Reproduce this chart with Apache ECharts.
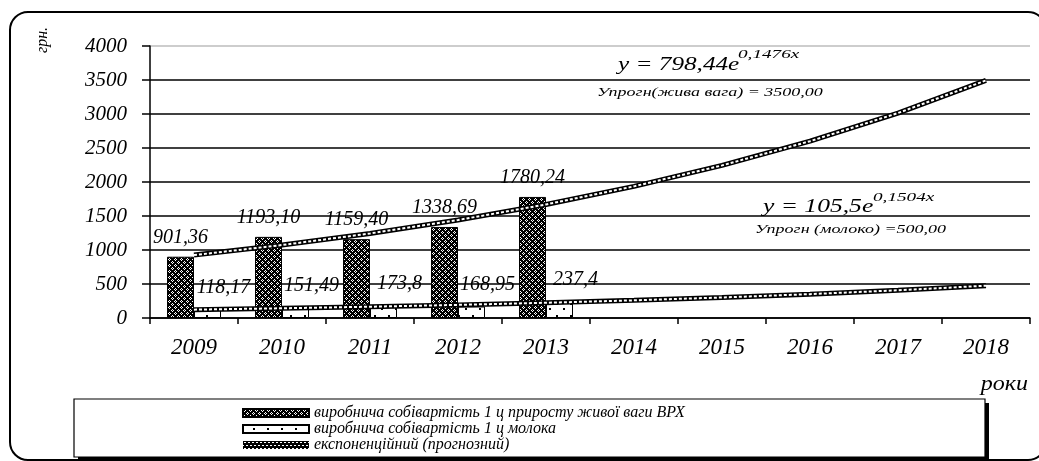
<!DOCTYPE html>
<html style="height: 100%">
<head>
    <meta charset="utf-8">
</head>
<body style="height: 100%; margin: 0; background: #fff">
<div id="container" style="width: 1039px; height: 461px"></div>
<script src="https://cdn.jsdelivr.net/npm/echarts@6/dist/echarts.min.js"></script>
<script>
    // дані з графіка
    var years = ['2009', '2010', '2011', '2012', '2013', '2014', '2015', '2016', '2017', '2018'];
    var costLive = [901.36, 1193.10, 1159.40, 1338.69, 1780.24];
    var costMilk = [118.17, 151.49, 173.8, 168.95, 237.4];
    // прочитано з ліній тренду на графіку
    var trendLive = [925, 1073, 1243, 1441, 1670, 1936, 2244, 2600, 3014, 3494];
    var trendMilk = [123, 143, 166, 193, 224, 260, 302, 351, 408, 475];
    var yTicks = [0, 500, 1000, 1500, 2000, 2500, 3000, 3500, 4000];
    var names = [
        'виробнича собівартість 1 ц приросту живої ваги ВРХ',
        'виробнича собівартість 1 ц молока',
        'експоненційний (прогнозний)'
    ];

    var serif = '"Liberation Serif", "Times New Roman", serif';

    // штрихування стовпців
    function makeTile(w, h, bg, fg, cells) {
        var c = document.createElement('canvas');
        c.width = w; c.height = h;
        var ctx = c.getContext('2d');
        ctx.fillStyle = bg;
        ctx.fillRect(0, 0, w, h);
        ctx.fillStyle = fg;
        for (var i = 0; i < cells.length; i++) {
            ctx.fillRect(cells[i][0], cells[i][1], cells[i][2] || 1, cells[i][3] || 1);
        }
        return {image: c, repeat: 'repeat'};
    }
    var darkPat = makeTile(6, 6, '#000', '#fff',
        [[1, 0], [0, 1], [2, 1], [1, 2], [4, 3], [3, 4], [5, 4], [4, 5]]);
    var dotPat = makeTile(14, 12, '#fff', '#000', [[3, 8, 2, 2], [10, 3, 2, 2]]);
    var chainPat = makeTile(4, 6, '#000', '#fff', [[1, 1, 2, 1], [0, 4, 1, 1], [3, 4, 1, 1]]);

    var gridColors = yTicks.map(function (v, i) {
        return i === yTicks.length - 1 ? '#bdbdbd' : '#000';
    });

    function txt(text, x, y, size, sx, align, extra) {
        var el = {
            type: 'text', x: x, y: y, scaleX: sx || 1, z: 20,
            style: {
                text: text, fill: '#000', fontSize: size, fontStyle: 'italic', fontFamily: serif,
                align: align || 'left', verticalAlign: 'middle',
                textAlign: align || 'left', textVerticalAlign: 'middle'
            }
        };
        if (extra) { for (var k in extra) el[k] = extra[k]; }
        return el;
    }

    var dom = document.getElementById('container');
    var myChart = echarts.init(dom, null, {renderer: 'canvas'});

    var option = {
        animation: false,
        backgroundColor: '#fff',
        grid: {left: 150, right: 9, top: 46, bottom: 143, containLabel: false},
        legend: {
            orient: 'vertical',
            left: 242,
            top: 405,
            padding: 0,
            itemGap: 0,
            itemWidth: 66,
            itemHeight: 8,
            selectedMode: false,
            z: 10,
            textStyle: {color: '#000', fontSize: 16, fontStyle: 'italic', fontFamily: serif, lineHeight: 12.5},
            data: [
                {name: names[0], icon: 'rect'},
                {name: names[1], icon: 'rect'},
                {name: names[2], icon: 'rect', itemStyle: {color: chainPat, borderWidth: 0}, lineStyle: {width: 0}}
            ]
        },
        xAxis: {
            type: 'category',
            data: years,
            boundaryGap: true,
            axisLine: {lineStyle: {color: '#000', width: 1.5}},
            axisTick: {show: true, length: 6, lineStyle: {color: '#000', width: 1.5}},
            axisLabel: {color: '#000', fontSize: 23, fontStyle: 'italic', fontFamily: serif, margin: 18},
            splitLine: {show: false}
        },
        yAxis: {
            type: 'value',
            min: yTicks[0],
            max: yTicks[yTicks.length - 1],
            interval: yTicks[1] - yTicks[0],
            axisLine: {show: true, lineStyle: {color: '#000', width: 1.5}},
            axisTick: {show: true, length: 8, lineStyle: {color: '#000', width: 1.5}},
            axisLabel: {
                color: '#000', fontSize: 21, fontStyle: 'italic', fontFamily: serif, margin: 23,
                formatter: function (v) { return String(v); }
            },
            splitLine: {show: true, lineStyle: {color: gridColors, width: 1.5}}
        },
        series: [
            {
                name: names[0],
                type: 'bar',
                data: costLive,
                barWidth: 27,
                barGap: '0%',
                itemStyle: {color: darkPat, borderColor: '#000', borderWidth: 1},
                label: {
                    show: true, position: 'top', distance: 9,
                    color: '#000', fontSize: 20, fontStyle: 'italic', fontFamily: serif,
                    formatter: function (p) { return p.value.toFixed(2).replace('.', ','); }
                },
                z: 2
            },
            {
                name: names[1],
                type: 'bar',
                data: costMilk,
                barWidth: 27,
                barGap: '0%',
                itemStyle: {color: dotPat, borderColor: '#000', borderWidth: 1},
                label: {
                    show: true, position: 'top', distance: 12, offset: [16, 0],
                    color: '#000', fontSize: 20, fontStyle: 'italic', fontFamily: serif,
                    formatter: function (p) { return String(p.value).replace('.', ','); }
                },
                z: 2
            },
            {
                name: names[2],
                type: 'line',
                data: trendLive,
                symbol: 'none',
                lineStyle: {color: '#000', width: 5},
                itemStyle: {color: '#000'},
                z: 3
            },
            {
                name: 'trendLiveInner',
                type: 'line',
                data: trendLive,
                symbol: 'none',
                lineStyle: {color: '#fff', width: 2, type: [3, 2]},
                z: 4
            },
            {
                name: names[2],
                type: 'line',
                data: trendMilk,
                symbol: 'none',
                lineStyle: {color: '#000', width: 5},
                itemStyle: {color: '#000'},
                z: 3
            },
            {
                name: 'trendMilkInner',
                type: 'line',
                data: trendMilk,
                symbol: 'none',
                lineStyle: {color: '#fff', width: 2, type: [3, 2]},
                z: 4
            }
        ],
        graphic: [
            // рамка діаграми
            {
                type: 'rect', z: 0,
                shape: {x: 10, y: 12, width: 1036, height: 448, r: 18},
                style: {fill: 'none', stroke: '#000', lineWidth: 2}
            },
            // рамка легенди з тінню
            {
                type: 'rect', z: 1,
                shape: {x: 78, y: 403, width: 911, height: 58},
                style: {fill: '#000'}
            },
            {
                type: 'rect', z: 2,
                shape: {x: 74, y: 399, width: 911, height: 58},
                style: {fill: '#fff', stroke: '#000', lineWidth: 1.2}
            },
            txt('грн.', 43, 40, 16, 1, 'center', {rotation: Math.PI / 2}),
            txt('роки', 1028, 385, 20, 1.2, 'right'),
            txt('y = 798,44e', 618, 65, 18, 1.4),
            txt('0,1476x', 738, 55, 12, 1.6),
            txt('Упрогн(жива вага) = 3500,00', 597, 93, 12, 1.5),
            txt('y = 105,5e', 763, 207, 18, 1.42),
            txt('0,1504x', 873, 198, 12, 1.6),
            txt('Упрогн (молоко) =500,00', 755, 230, 12, 1.5)
        ]
    };

    if (option && typeof option === "object") {
        myChart.setOption(option, true);
    }
</script>
</body>
</html>
